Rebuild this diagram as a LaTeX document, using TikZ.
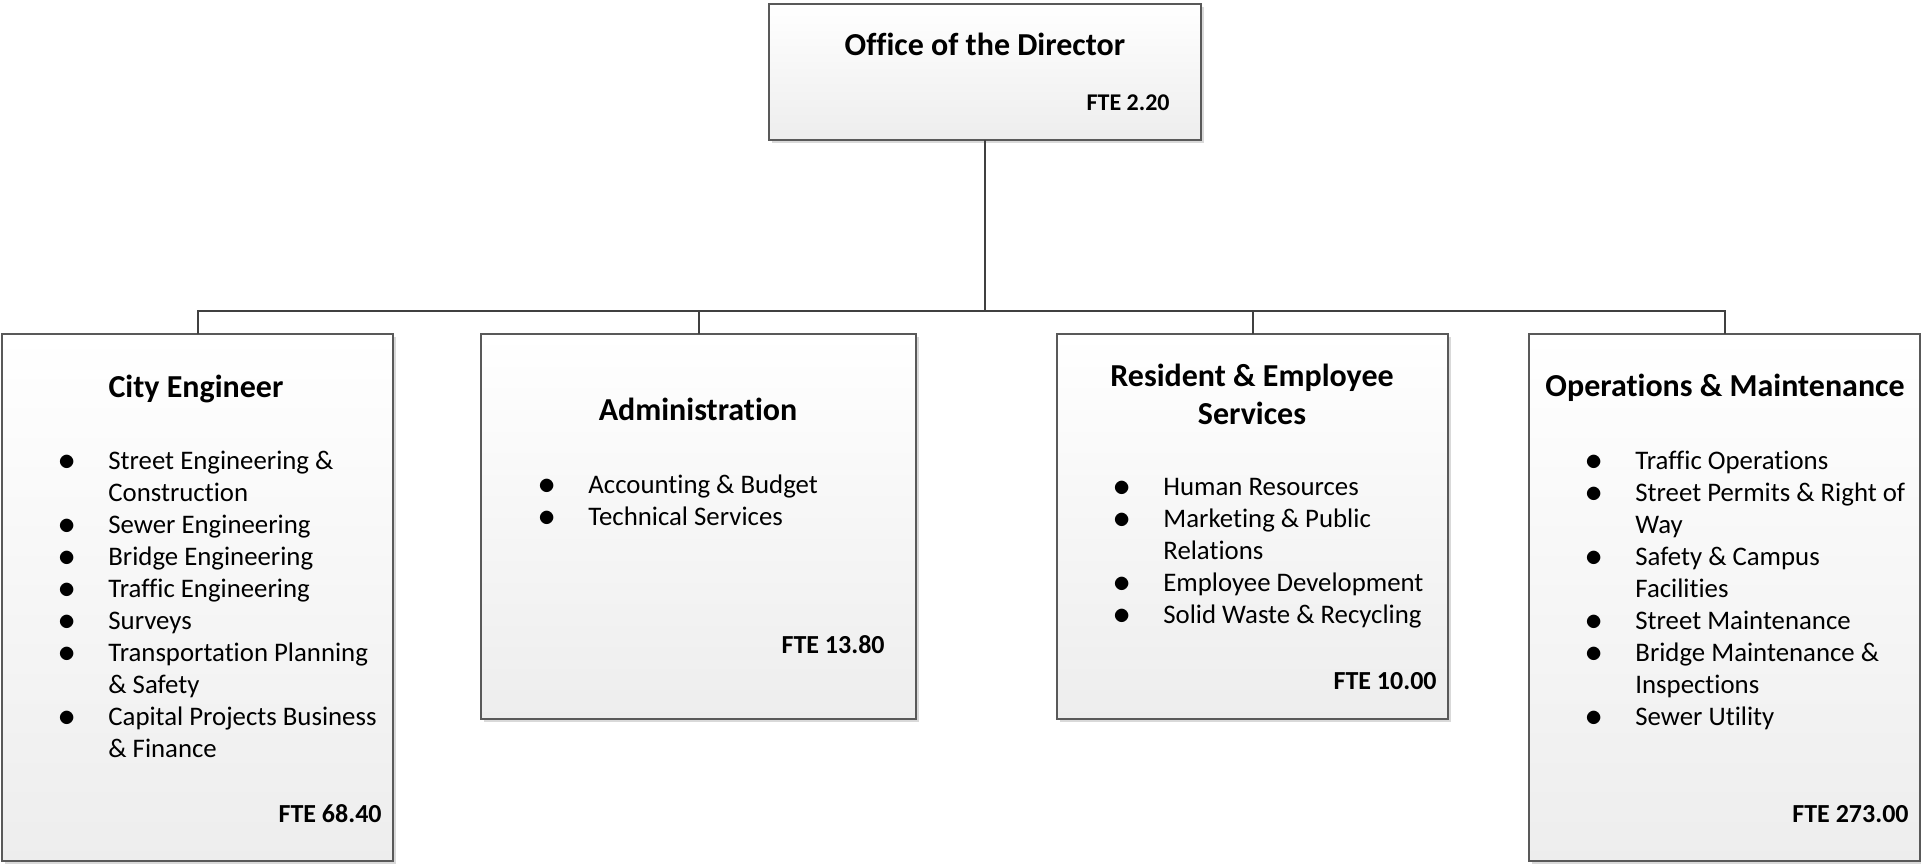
\documentclass[tikz,border=0pt]{standalone}
\usepackage{fontspec}
\setmainfont{Carlito}[Ligatures=NoCommon]
\usetikzlibrary{shadows}

\newcommand{\bul}{\makebox[24.75pt][l]{\raisebox{-0.9pt}{\fontsize{17}{16}\selectfont$\bullet$}}}
\newcommand{\cont}{\hspace*{24.75pt}}

\begin{document}
\begin{tikzpicture}[
    x=0.5pt, y=-0.5pt,
    unit/.style    = {draw=black!65, line width=0.75pt, inner sep=0pt, outer sep=0pt,
                      top color=white, bottom color=black!7,
                      drop shadow={shadow xshift=1.5pt, shadow yshift=-1.5pt, fill=black!25, opacity=0.6}},
    headtxt/.style = {font=\fontsize{16}{19}\selectfont\bfseries, align=center, anchor=base, inner sep=0pt},
    listtxt/.style = {font=\fontsize{13.4}{16}\selectfont, align=left, anchor=base west, inner sep=0pt},
    ftetxt/.style  = {font=\fontsize{13}{16}\selectfont\bfseries, anchor=base east, inner sep=0pt},
    conn/.style    = {draw=black!75, line width=1pt}
]
    \useasboundingbox (0,0) rectangle (1921,864);

    % boxes
    \node[unit, minimum width=216pt, minimum height=68pt] (director) at (985,72) {};
    \node[unit, minimum width=195.5pt, minimum height=263.5pt] (cityeng) at (197.5,597.5) {};
    \node[unit, minimum width=217.5pt, minimum height=192.5pt] (admin) at (698.5,526.5) {};
    \node[unit, minimum width=195.5pt, minimum height=192.5pt] (resident) at (1252.5,526.5) {};
    \node[unit, minimum width=195.5pt, minimum height=263.5pt] (ops) at (1724.5,597.5) {};

    % connectors
    \coordinate (bus) at (985,311);
    \draw[conn] (director.south) -- (bus);
    \draw[conn] (cityeng.north) |- (bus) -| (ops.north);
    \draw[conn] (admin.north) |- (bus);
    \draw[conn] (resident.north) |- (bus);

    % director
    \node[headtxt] (dirhead) at (985,55) {Office of the Director};
    \node[ftetxt, font=\fontsize{12}{14}\selectfont\bfseries] (dirfte) at (1170,110) {FTE 2.20};

    % city engineer (list placed by its last line)
    \node[headtxt] (cityhead) at (196,397) {City Engineer};
    \node[listtxt] (citylist) at (58.5,757) {\bul Street Engineering \&\\ \cont Construction\\
        \bul Sewer Engineering\\ \bul Bridge Engineering\\ \bul Traffic Engineering\\ \bul Surveys\\
        \bul Transportation Planning\\ \cont \& Safety\\ \bul Capital Projects Business\\ \cont \& Finance};
    \node[ftetxt] (cityfte) at (382,822) {FTE 68.40};

    % administration
    \node[headtxt] (adminhead) at (698,420) {Administration};
    \node[listtxt] (adminlist) at (538.5,525) {\bul Accounting \& Budget\\ \bul Technical Services};
    \node[ftetxt] (adminfte) at (885,653) {FTE 13.80};

    % resident & employee services
    \node[headtxt] (reshead) at (1252,424) {Resident \& Employee\\ Services};
    \node[listtxt] (reslist) at (1113.5,623) {\bul Human Resources\\ \bul Marketing \& Public\\ \cont Relations\\
        \bul Employee Development\\ \bul Solid Waste \& Recycling};
    \node[ftetxt] (resfte) at (1437,689) {FTE 10.00};

    % operations & maintenance
    \node[headtxt] (opshead) at (1725,396) {Operations \& Maintenance};
    \node[listtxt] (opslist) at (1585.5,725) {\bul Traffic Operations\\ \bul Street Permits \& Right of\\ \cont Way\\
        \bul Safety \& Campus\\ \cont Facilities\\ \bul Street Maintenance\\ \bul Bridge Maintenance \&\\
        \cont Inspections\\ \bul Sewer Utility};
    \node[ftetxt] (opsfte) at (1909,822) {FTE 273.00};
\end{tikzpicture}
\end{document}
